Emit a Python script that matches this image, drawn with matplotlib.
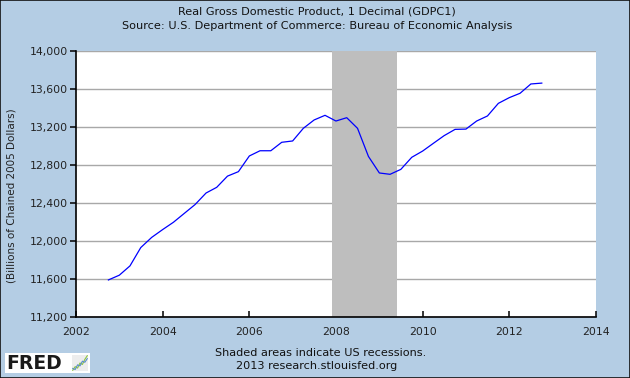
import matplotlib
matplotlib.use("Agg")
import matplotlib.pyplot as plt
import matplotlib.dates as mdates
import pandas as pd
from matplotlib.patches import Rectangle

# ---- data ----
quarters = pd.period_range("2002Q4", "2012Q4", freq="Q").to_timestamp()
gdp = [11590, 11640, 11738, 11931, 12038, 12120, 12197, 12290, 12384, 12505,
       12565, 12683, 12730, 12895, 12950, 12950, 13039, 13053, 13186, 13274,
       13323, 13263, 13298, 13186, 12890, 12716, 12702, 12754, 12881, 12947,
       13028, 13109, 13175, 13178, 13263, 13316, 13449, 13509, 13555, 13653,
       13662]
recession_start = "2007-12-01"
recession_end = "2009-06-01"
y_ticks = [11200, 11600, 12000, 12400, 12800, 13200, 13600, 14000]
x_tick_years = [2002, 2004, 2006, 2008, 2010, 2012, 2014]
title1 = "Real Gross Domestic Product, 1 Decimal (GDPC1)"
title2 = "Source: U.S. Department of Commerce: Bureau of Economic Analysis"
y_label = "(Billions of Chained 2005 Dollars)"
foot1 = "Shaded areas indicate US recessions."
foot2 = "2013 research.stlouisfed.org"
icon_green = [1, 2, 1.6, 3, 2.6, 4, 5]
icon_blue = [1.5, 1.2, 2.5, 2.2, 3.5, 3.2, 4.2]

BG = "#B4CDE4"
plt.rcParams["font.family"] = ["DejaVu Sans"]

fig = plt.figure(figsize=(6.3, 3.78), dpi=100, facecolor=BG)
ax = fig.add_axes([76 / 630, 1 - 317 / 378, (596 - 76) / 630, (317 - 51) / 378])
ax.set_facecolor("white")

ax.axvspan(pd.Timestamp(recession_start), pd.Timestamp(recession_end),
           color="#BEBEBE", zorder=1, lw=0)
ax.plot(quarters, gdp, color="#0000FF", lw=0.9, zorder=3)

ax.set_xlim(pd.Timestamp("2002-01-01"), pd.Timestamp("2014-01-01"))
ax.set_ylim(11200, 14000)
ax.set_xticks([pd.Timestamp(f"{y}-01-01") for y in x_tick_years])
ax.xaxis.set_major_formatter(mdates.DateFormatter("%Y"))
ax.set_yticks(y_ticks)
ax.set_yticklabels([f"{v:,}" for v in y_ticks])

ax.set_axisbelow(True)
ax.yaxis.grid(True, color="#A8A8A8", lw=1.0)
ax.xaxis.grid(False)

for s in ["top", "right"]:
    ax.spines[s].set_visible(False)
for s in ["left", "bottom"]:
    ax.spines[s].set_color("black")
    ax.spines[s].set_linewidth(1.2)

ax.tick_params(axis="y", direction="out", length=4.5, width=1.1, pad=1.5,
               labelsize=7.8, colors="black", labelcolor="#222222")
ax.tick_params(axis="x", direction="in", length=4.5, width=1.1, pad=7,
               labelsize=7.8, colors="black", labelcolor="#222222")

fig.text(12 / 630, 1 - 195.5 / 378, y_label, rotation=90, ha="center",
         va="center", fontsize=7.5, color="#222222")
fig.text(317 / 630, 1 - 15 / 378, title1, ha="center", va="baseline",
         fontsize=8.1, color="#111111")
fig.text(317 / 630, 1 - 29 / 378, title2, ha="center", va="baseline",
         fontsize=8.1, color="#111111")
fig.text(321 / 630, 1 - 355.5 / 378, foot1, ha="center", va="baseline",
         fontsize=8.1, color="#111111")
fig.text(317 / 630, 1 - 369 / 378, foot2, ha="center", va="baseline",
         fontsize=8.1, color="#111111")

# FRED logo
fig.patches.append(Rectangle((5 / 630, 1 - 373 / 378), 85 / 630, 20 / 378,
                             transform=fig.transFigure, facecolor="white",
                             edgecolor="none", zorder=2))
fig.text(6 / 630, 1 - 363.5 / 378, "FRED", ha="left", va="center",
         fontsize=13.5, fontweight="heavy", color="#1a1a1a", zorder=3)
iax = fig.add_axes([72 / 630, 1 - 371 / 378, 16 / 630, 16 / 378], zorder=5)
iax.set_facecolor("#EDEDED")
iax.plot(range(len(icon_green)), icon_green, color="#8DC63F", lw=0.8)
iax.plot(range(len(icon_blue)), icon_blue, color="#5B8DC9", lw=0.8)
iax.set_xticks([]); iax.set_yticks([])
for s in iax.spines.values():
    s.set_visible(False)

# outer border
fig.patches.append(Rectangle((0, 0), 1, 1, transform=fig.transFigure,
                             facecolor="none", edgecolor="#111111", lw=1.2,
                             zorder=10))

fig.savefig("out.png", dpi=100, facecolor=BG)
